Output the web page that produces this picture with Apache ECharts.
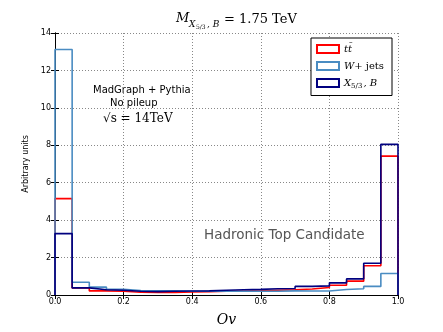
<!DOCTYPE html>
<html>
<head>
<meta charset="utf-8">
<script src="https://cdn.jsdelivr.net/npm/echarts@6/dist/echarts.min.js"></script>
<style>
  html, body { margin: 0; padding: 0; background: #fff; }
  #chart { width: 443px; height: 332px; }
</style>
</head>
<body>
<div id="chart"></div>
<script>
  // bin edges of the Ov histogram (20 bins)
  var binEdges = [0, 0.05, 0.1, 0.15, 0.2, 0.25, 0.3, 0.35, 0.4, 0.45, 0.5,
    0.55, 0.6, 0.65, 0.7, 0.75, 0.8, 0.85, 0.9, 0.95, 1.0]
  var seriesNames = ['ttbar', 'wjets', 'x53']
  var ttbar = [5.15, 0.38, 0.22, 0.2, 0.15, 0.14, 0.14, 0.16, 0.18, 0.2,
    0.2, 0.22, 0.25, 0.28, 0.32, 0.4, 0.52, 0.74, 1.56, 7.42]
  var wjets = [13.12, 0.68, 0.42, 0.3, 0.24, 0.22, 0.22, 0.2, 0.2, 0.2,
    0.2, 0.2, 0.2, 0.22, 0.21, 0.21, 0.29, 0.33, 0.46, 1.15]
  var x53 = [3.28, 0.38, 0.28, 0.25, 0.2, 0.18, 0.2, 0.21, 0.22, 0.25,
    0.28, 0.3, 0.33, 0.35, 0.46, 0.49, 0.65, 0.86, 1.7, 8.05]
  var xTicks = [0, 0.2, 0.4, 0.6, 0.8, 1.0]
  var yTicks = [0, 2, 4, 6, 8, 10, 12, 14]

  // turn bin contents into an outline (histtype step)
  function stepData (vals) {
    var d = [[binEdges[0], 0]]
    for (var i = 0; i < vals.length; i++) {
      d.push([binEdges[i], vals[i]])
    }
    d.push([binEdges[vals.length], vals[vals.length - 1]])
    d.push([binEdges[vals.length], 0])
    return d
  }

  function histSeries (name, color, vals) {
    return {
      name: name,
      type: 'line',
      step: 'end',
      showSymbol: false,
      symbol: 'none',
      clip: false,
      silent: true,
      lineStyle: { color: color, width: 1.6 },
      itemStyle: { color: 'transparent', borderColor: color, borderWidth: 2 },
      data: stepData(vals)
    }
  }

  var serif = '"DejaVu Serif", "Liberation Serif", serif'
  var sans = '"DejaVu Sans", sans-serif'

  var chart = echarts.init(document.getElementById('chart'))
  chart.setOption({
    animation: false,
    backgroundColor: '#fff',
    grid: { left: 55, right: 45, top: 33, bottom: 34 },
    legend: {
      orient: 'vertical',
      right: 51,
      top: 38,
      padding: [6, 8, 6, 5],
      itemWidth: 22,
      itemHeight: 8,
      itemGap: 7,
      borderColor: '#000',
      borderWidth: 1,
      backgroundColor: '#fff',
      data: seriesNames,
      icon: 'rect',
      formatter: function (name) {
        if (name === 'ttbar') return '{i|tt\u0304}'
        if (name === 'wjets') return '{i|W}{r|+ jets}'
        return '{i|X}{s|5/3}{i|, B}'
      },
      textStyle: {
        fontFamily: serif,
        fontSize: 10,
        color: '#000',
        rich: {
          i: { fontFamily: serif, fontStyle: 'italic', fontSize: 10, color: '#000' },
          r: { fontFamily: serif, fontSize: 10, color: '#000' },
          s: { fontFamily: serif, fontSize: 7, color: '#000', padding: [6, 1, 0, 0] }
        }
      }
    },
    xAxis: [{
      type: 'value',
      min: 0,
      max: 1,
      interval: 0.2,
      name: 'Ov',
      nameLocation: 'middle',
      nameGap: 18,
      nameTextStyle: { fontFamily: serif, fontStyle: 'italic', fontSize: 14, color: '#000' },
      axisLine: { lineStyle: { color: '#000', width: 1 } },
      axisTick: { inside: true, length: 4, lineStyle: { color: '#000' } },
      axisLabel: {
        fontFamily: sans,
        fontSize: 8,
        color: '#000',
        margin: 3,
        formatter: function (v) { return xTicks.indexOf(v) >= 0 ? v.toFixed(1) : '' }
      },
      splitLine: { show: true, lineStyle: { color: '#888', type: [1, 2], width: 1 } }
    }, {
      type: 'value',
      position: 'top',
      min: 0,
      max: 1,
      interval: 0.2,
      axisLine: { lineStyle: { color: '#000', width: 1 } },
      axisTick: { inside: true, length: 4, lineStyle: { color: '#000' } },
      axisLabel: { show: false },
      splitLine: { show: false }
    }],
    yAxis: [{
      type: 'value',
      min: 0,
      max: 14,
      interval: 2,
      name: 'Arbitrary units',
      nameLocation: 'middle',
      nameGap: 16,
      nameTextStyle: { fontFamily: sans, fontSize: 8, color: '#000' },
      axisLine: { show: true, lineStyle: { color: '#000', width: 1 } },
      axisTick: { show: true, inside: true, length: 4, lineStyle: { color: '#000' } },
      axisLabel: {
        fontFamily: sans,
        fontSize: 8,
        color: '#000',
        margin: 4,
        formatter: function (v) { return yTicks.indexOf(v) >= 0 ? String(v) : '' }
      },
      splitLine: { show: true, lineStyle: { color: '#888', type: [1, 2], width: 1 } }
    }, {
      type: 'value',
      position: 'right',
      min: 0,
      max: 14,
      interval: 2,
      axisLine: { show: true, lineStyle: { color: '#000', width: 1 } },
      axisTick: { show: true, inside: true, length: 4, lineStyle: { color: '#000' } },
      axisLabel: { show: false },
      splitLine: { show: false }
    }],
    graphic: [
      // title
      { type: 'text', left: 176, top: 12, style: { text: 'M', fontFamily: serif, fontStyle: 'italic', fontSize: 13, fill: '#000' } },
      { type: 'text', left: 189, top: 20, style: { text: 'X', fontFamily: serif, fontStyle: 'italic', fontSize: 9, fill: '#000' } },
      { type: 'text', left: 196, top: 24, style: { text: '5/3', fontFamily: serif, fontSize: 6, fill: '#000' } },
      { type: 'text', left: 207, top: 20, style: { text: ', B', fontFamily: serif, fontStyle: 'italic', fontSize: 9, fill: '#000' } },
      { type: 'text', left: 224, top: 13, style: { text: '= 1.75 TeV', fontFamily: serif, fontSize: 13, fill: '#000' } },
      // annotations
      { type: 'text', left: 93, top: 85, style: { text: 'MadGraph + Pythia', fontFamily: sans, fontSize: 10, fill: '#000' } },
      { type: 'text', left: 110, top: 98, style: { text: 'No pileup', fontFamily: sans, fontSize: 10, fill: '#000' } },
      { type: 'text', left: 103, top: 113, style: { text: '\u221As = 14TeV', fontFamily: serif, fontSize: 12, fill: '#000' } },
      { type: 'text', left: 204, top: 228, style: { text: 'Hadronic Top Candidate', fontFamily: sans, fontSize: 13.5, fill: '#555' } }
    ],
    series: [
      histSeries('ttbar', '#ff0000', ttbar),
      histSeries('wjets', '#4a8cc2', wjets),
      histSeries('x53', '#00007f', x53)
    ]
  })
</script>
</body>
</html>
